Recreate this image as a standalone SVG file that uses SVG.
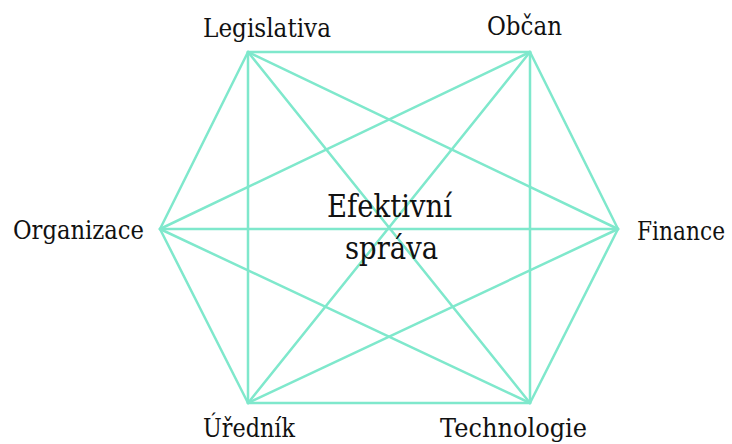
<svg xmlns="http://www.w3.org/2000/svg" width="732" height="444" viewBox="0 0 732 444">
<style>
.e{stroke:#7fe8cc;stroke-width:2.5;fill:none;stroke-linecap:round}
text{font-family:'DejaVu Serif','Liberation Serif',serif;fill:#111}
.t{font-size:26px}
.c{font-size:31px}
</style>
<rect width="732" height="444" fill="#fff"/>
<g id="connectors">
<line class="e" x1="248" y1="52" x2="530" y2="52"/>
<line class="e" x1="248" y1="52" x2="618" y2="229"/>
<line class="e" x1="248" y1="52" x2="530" y2="403"/>
<line class="e" x1="248" y1="52" x2="248" y2="403"/>
<line class="e" x1="248" y1="52" x2="160" y2="229"/>
<line class="e" x1="530" y1="52" x2="618" y2="229"/>
<line class="e" x1="530" y1="52" x2="530" y2="403"/>
<line class="e" x1="530" y1="52" x2="248" y2="403"/>
<line class="e" x1="530" y1="52" x2="160" y2="229"/>
<line class="e" x1="618" y1="229" x2="530" y2="403"/>
<line class="e" x1="618" y1="229" x2="248" y2="403"/>
<line class="e" x1="618" y1="229" x2="160" y2="229"/>
<line class="e" x1="530" y1="403" x2="248" y2="403"/>
<line class="e" x1="530" y1="403" x2="160" y2="229"/>
<line class="e" x1="248" y1="403" x2="160" y2="229"/>
</g>
<g id="legislativa"><text class="t" x="203" y="37" textLength="128" lengthAdjust="spacingAndGlyphs">Legislativa</text></g>
<g id="obcan"><text class="t" x="487" y="35" textLength="75" lengthAdjust="spacingAndGlyphs">Občan</text></g>
<g id="finance"><text class="t" x="637" y="240" textLength="88" lengthAdjust="spacingAndGlyphs">Finance</text></g>
<g id="technologie"><text class="t" x="440" y="437" textLength="147" lengthAdjust="spacingAndGlyphs">Technologie</text></g>
<g id="urednik"><text class="t" x="203" y="437" textLength="92" lengthAdjust="spacingAndGlyphs">Úředník</text></g>
<g id="organizace"><text class="t" x="13" y="239" textLength="131" lengthAdjust="spacingAndGlyphs">Organizace</text></g>
<g id="center"><text class="c" x="327" y="217" textLength="125" lengthAdjust="spacingAndGlyphs">Efektivní</text><text class="c" x="345" y="259" textLength="93" lengthAdjust="spacingAndGlyphs">správa</text></g>
</svg>
